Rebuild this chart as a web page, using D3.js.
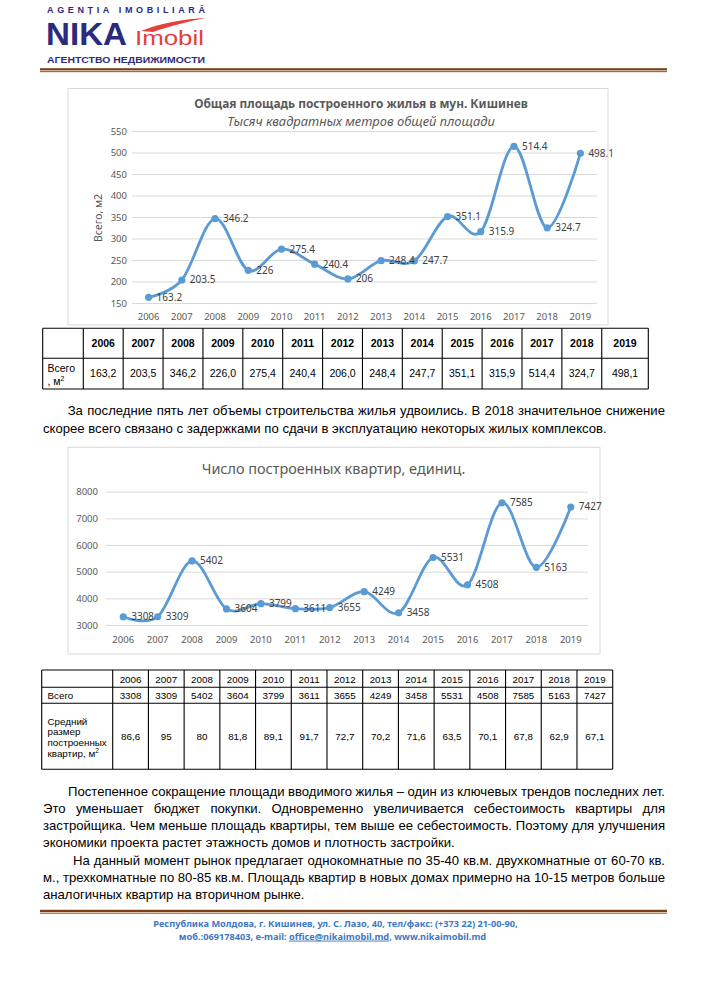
<!DOCTYPE html>
<html>
<head>
<meta charset="utf-8">
<script src="https://cdn.jsdelivr.net/npm/d3@7"></script>
<style>
body { margin: 0; background: #fff; }
svg { display: block; }
</style>
</head>
<body>
<script>
// ---- data ----
const years = ["2006","2007","2008","2009","2010","2011","2012","2013","2014","2015","2016","2017","2018","2019"];
const areaTotal = [163.2, 203.5, 346.2, 226.0, 275.4, 240.4, 206.0, 248.4, 247.7, 351.1, 315.9, 514.4, 324.7, 498.1];
const areaTicks = [150, 200, 250, 300, 350, 400, 450, 500, 550];
const flatsTotal = [3308, 3309, 5402, 3604, 3799, 3611, 3655, 4249, 3458, 5531, 4508, 7585, 5163, 7427];
const flatsTicks = [3000, 4000, 5000, 6000, 7000, 8000];
const avgSize = [86.6, 95, 80, 81.8, 89.1, 91.7, 72.7, 70.2, 71.6, 63.5, 70.1, 67.8, 62.9, 67.1];

const chartFont = "'Noto Sans', 'DejaVu Sans', sans-serif";
const textFont = "'Liberation Sans Narrow', 'Liberation Sans', Arial, sans-serif";
const tableFont = "'Liberation Sans', Arial, sans-serif";
const navy = "#2c2a7c";
const blue = "#5b9bd5";

const svg = d3.select("body").append("svg")
    .attr("width", 707)
    .attr("height", 1000);

svg.append("rect").attr("width", 707).attr("height", 1000).attr("fill", "#fff");

// ---- logo / header ----
const logo = svg.append("g").attr("fill", navy).attr("font-family", tableFont).attr("font-weight", "bold");

logo.append("text").attr("x", 47).attr("y", 12.6)
    .attr("font-size", 9).attr("textLength", 158).attr("lengthAdjust", "spacing")
    .text("AGENȚIA IMOBILIARĂ");

logo.append("text").attr("x", 46).attr("y", 45)
    .attr("font-size", 32).attr("textLength", 81).attr("lengthAdjust", "spacingAndGlyphs")
    .text("NIKA");

logo.append("path")
    .attr("d", "M141,31 C160,23 184,19 206,18 C190,21 170,26 153,32 Z")
    .attr("fill", "#e5403a");

logo.append("text").attr("x", 135).attr("y", 45)
    .attr("font-size", 20).attr("font-weight", "normal").attr("fill", "#e5403a")
    .attr("textLength", 69).attr("lengthAdjust", "spacingAndGlyphs")
    .text("Imobil");

logo.append("text").attr("x", 47).attr("y", 63.4)
    .attr("font-size", 9.5).attr("textLength", 158).attr("lengthAdjust", "spacingAndGlyphs")
    .text("АГЕНТСТВО НЕДВИЖИМОСТИ");

function brownRule(y) {
    svg.append("rect").attr("x", 40).attr("y", y).attr("width", 627).attr("height", 2.2).attr("fill", "#7b3f16");
    svg.append("rect").attr("x", 40).attr("y", y + 2.8).attr("width", 627).attr("height", 1.2).attr("fill", "#a8682f");
}
brownRule(68.2);
brownRule(909.8);

// ---- line chart ----
function lineChart(cfg) {
    const g = svg.append("g");

    g.append("rect")
        .attr("x", cfg.box[0]).attr("y", cfg.box[1])
        .attr("width", cfg.box[2] - cfg.box[0]).attr("height", cfg.box[3] - cfg.box[1])
        .attr("fill", "#fff").attr("stroke", "#d9d9d9");

    const x = d3.scaleBand().domain(years).range(cfg.xr);
    const y = d3.scaleLinear().domain(d3.extent(cfg.ticks)).range(cfg.yr);

    const yAx = g.append("g")
        .attr("transform", `translate(${cfg.xr[0]},0)`)
        .call(d3.axisLeft(y).tickValues(cfg.ticks).tickFormat(d3.format("d"))
            .tickSize(-(cfg.xr[1] - cfg.xr[0])).tickPadding(cfg.pad));
    yAx.attr("font-family", chartFont).attr("font-size", 9.5);
    yAx.select(".domain").remove();
    yAx.selectAll("line").attr("stroke", "#d9d9d9");
    yAx.selectAll("text").attr("fill", "#595959");

    const xAx = g.append("g")
        .attr("transform", `translate(0,${cfg.xLabelY})`)
        .call(d3.axisBottom(x).tickSize(0).tickPadding(0));
    xAx.attr("font-family", chartFont).attr("font-size", 9.5);
    xAx.select(".domain").remove();
    xAx.selectAll("text").attr("fill", "#595959").attr("dy", "0.35em");

    const cx = (d, i) => x(years[i]) + x.bandwidth() / 2;

    g.append("path")
        .datum(cfg.values)
        .attr("fill", "none")
        .attr("stroke", blue)
        .attr("stroke-width", 2.8)
        .attr("stroke-linecap", "round")
        .attr("d", d3.line().x(cx).y(d => y(d)).curve(d3.curveCardinal.tension(0)));

    g.selectAll(".pt")
        .data(cfg.values)
        .enter().append("circle")
        .attr("class", "pt")
        .attr("cx", cx)
        .attr("cy", d => y(d))
        .attr("r", 3.6)
        .attr("fill", blue);

    g.selectAll(".lbl")
        .data(cfg.values)
        .enter().append("text")
        .attr("class", "lbl")
        .attr("x", (d, i) => cx(d, i) + 8)
        .attr("y", d => y(d))
        .attr("dy", "0.35em")
        .attr("font-family", chartFont)
        .attr("font-size", 10)
        .attr("fill", "#404040")
        .text(d => String(d));

    return g;
}

function fitText(sel, target) {
    const w = sel.node().getComputedTextLength();
    sel.attr("font-size", +sel.attr("font-size") * target / w);
    return sel;
}

// chart 1
const c1 = lineChart({
    box: [68, 88.5, 608, 325],
    xr: [132, 597],
    yr: [303, 131],
    ticks: areaTicks,
    values: areaTotal,
    pad: 5,
    xLabelY: 317
});
fitText(c1.append("text").attr("x", 361).attr("y", 107.8).attr("text-anchor", "middle")
    .attr("font-family", chartFont).attr("font-size", 13).attr("font-weight", "bold").attr("fill", "#595959")
    .text("Общая площадь построенного жилья в мун. Кишинев"), 334);
fitText(c1.append("text").attr("x", 361).attr("y", 126.2).attr("text-anchor", "middle")
    .attr("font-family", chartFont).attr("font-size", 13).attr("font-style", "italic").attr("fill", "#595959")
    .text("Тысяч квадратных метров общей площади"), 268);
c1.append("text")
    .attr("transform", "translate(98,218) rotate(-90)")
    .attr("text-anchor", "middle").attr("dy", "0.35em")
    .attr("font-family", chartFont).attr("font-size", 10.5).attr("fill", "#595959")
    .text("Всего, м2");

// chart 2
const c2 = lineChart({
    box: [68, 447.3, 600, 654],
    xr: [106, 588],
    yr: [625, 491.7],
    ticks: flatsTicks,
    values: flatsTotal,
    pad: 8,
    xLabelY: 639.3
});
fitText(c2.append("text").attr("x", 333.6).attr("y", 474.3).attr("text-anchor", "middle")
    .attr("font-family", chartFont).attr("font-size", 14).attr("fill", "#595959")
    .text("Число построенных квартир, единиц."), 264);

// ---- tables ----
function grid(cols, rows) {
    const g = svg.append("g").attr("stroke", "#000").attr("stroke-width", 1.1);
    cols.forEach(cx => g.append("line").attr("x1", cx).attr("x2", cx).attr("y1", rows[0]).attr("y2", rows[rows.length - 1]));
    rows.forEach(ry => g.append("line").attr("y1", ry).attr("y2", ry).attr("x1", cols[0]).attr("x2", cols[cols.length - 1]));
}

function cellText(cols, i, yc, txt, opts) {
    svg.append("text")
        .attr("x", (cols[i] + cols[i + 1]) / 2)
        .attr("y", yc).attr("dy", "0.35em")
        .attr("text-anchor", "middle")
        .attr("font-family", tableFont)
        .attr("font-size", opts.size)
        .attr("font-weight", opts.bold ? "bold" : "normal")
        .text(txt);
}

// table 1
const t1cols = [42.7, 83.3];
for (let i = 1; i <= 13; i++) t1cols.push(83.3 + i * 39.88);
t1cols.push(648.3);
const t1rows = [328.3, 358.3, 389];
grid(t1cols, t1rows);
years.forEach((yr, i) => cellText(t1cols, i + 1, 343.3, yr, {size: 10.5, bold: true}));
areaTotal.forEach((v, i) => cellText(t1cols, i + 1, 373.6, d3.format(".1f")(v).replace(".", ","), {size: 10.5}));
svg.append("text").attr("x", 47.5).attr("y", 371.8).attr("font-family", tableFont).attr("font-size", 10.5).text("Всего");
svg.append("text").attr("x", 47.5).attr("y", 384.6).attr("font-family", tableFont).attr("font-size", 10.5)
    .text(", м").append("tspan").attr("font-size", 7).attr("dy", -4).text("2");

// table 2
const t2cols = [41.7, 112.7];
for (let i = 1; i <= 14; i++) t2cols.push(112.7 + i * 35.714);
const t2rows = [670, 687.3, 703.3, 769.3];
grid(t2cols, t2rows);
years.forEach((yr, i) => cellText(t2cols, i + 1, 679.2, yr, {size: 9.8}));
flatsTotal.forEach((v, i) => cellText(t2cols, i + 1, 695.5, String(v), {size: 9.8}));
avgSize.forEach((v, i) => cellText(t2cols, i + 1, 737, String(v).replace(".", ","), {size: 9.8}));
[["Всего", 698.9], ["Средний", 724.6], ["размер", 735.3], ["построенных", 745.9]].forEach(d => {
    svg.append("text").attr("x", 47.5).attr("y", d[1]).attr("font-family", tableFont).attr("font-size", 9.8).text(d[0]);
});
svg.append("text").attr("x", 47.5).attr("y", 756.8).attr("font-family", tableFont).attr("font-size", 9.8)
    .text("квартир, м").append("tspan").attr("font-size", 6.5).attr("dy", -4).text("2");

// ---- body text ----
const probe = svg.append("text").attr("font-family", textFont).attr("font-size", 14)
    .text("скорее всего связано с задержками по сдачи в эксплуатацию некоторых жилых комплексов.");
const bodySize = 14 * 564 / probe.node().getComputedTextLength();
probe.remove();

const rightEdge = 665;
const lead = 17.3;
const bodyLines = [
    {x: 67.7, y: 414.5, j: true,  s: "За последние пять лет объемы строительства жилья удвоились. В 2018 значительное снижение"},
    {x: 43,   y: 433,   j: false, s: "скорее всего связано с задержками по сдачи в эксплуатацию некоторых жилых комплексов."},
    {x: 68,   y: 795.5, j: true,  s: "Постепенное сокращение площади вводимого жилья – один из ключевых трендов последних лет."},
    {x: 43,   y: 795.5 + lead,     j: true,  s: "Это уменьшает бюджет покупки. Одновременно увеличивается себестоимость квартиры для"},
    {x: 43,   y: 795.5 + lead * 2, j: true,  s: "застройщика. Чем меньше площадь квартиры, тем выше ее себестоимость. Поэтому для улучшения"},
    {x: 43,   y: 795.5 + lead * 3, j: false, s: "экономики проекта растет этажность домов и плотность застройки."},
    {x: 73,   y: 795.5 + lead * 4, j: true,  s: "На данный момент рынок предлагает однокомнатные по 35-40 кв.м. двухкомнатные от 60-70 кв."},
    {x: 43,   y: 795.5 + lead * 5, j: true,  s: "м., трехкомнатные по 80-85 кв.м. Площадь квартир в новых домах примерно на 10-15 метров больше"},
    {x: 43,   y: 795.5 + lead * 6, j: false, s: "аналогичных квартир на вторичном рынке."}
];
bodyLines.forEach(l => {
    const t = svg.append("text")
        .attr("x", l.x).attr("y", l.y)
        .attr("font-family", textFont)
        .attr("font-size", bodySize)
        .attr("fill", "#000")
        .text(l.s);
    if (l.j) {
        const w = t.node().getComputedTextLength();
        const spaces = l.s.split(" ").length - 1;
        t.attr("word-spacing", (rightEdge - l.x - w) / spaces);
    }
});

// ---- footer ----
const foot1 = svg.append("text").attr("x", 335.5).attr("y", 926.6).attr("text-anchor", "middle")
    .attr("font-family", chartFont).attr("font-weight", "bold").attr("font-size", 10).attr("fill", "#3e78c2")
    .text("Республика Молдова, г. Кишинев, ул. С. Лазо, 40, тел/факс: (+373 22) 21-00-90,");
fitText(foot1, 365);
const foot2 = svg.append("text").attr("x", 332.5).attr("y", 939.6).attr("text-anchor", "middle")
    .attr("font-family", chartFont).attr("font-weight", "bold").attr("font-size", foot1.attr("font-size")).attr("fill", "#3e78c2");
foot2.append("tspan").text("моб.:069178403, e-mail: ");
foot2.append("tspan").style("text-decoration", "underline").text("office@nikaimobil.md");
foot2.append("tspan").text(", www.nikaimobil.md");
</script>
</body>
</html>
